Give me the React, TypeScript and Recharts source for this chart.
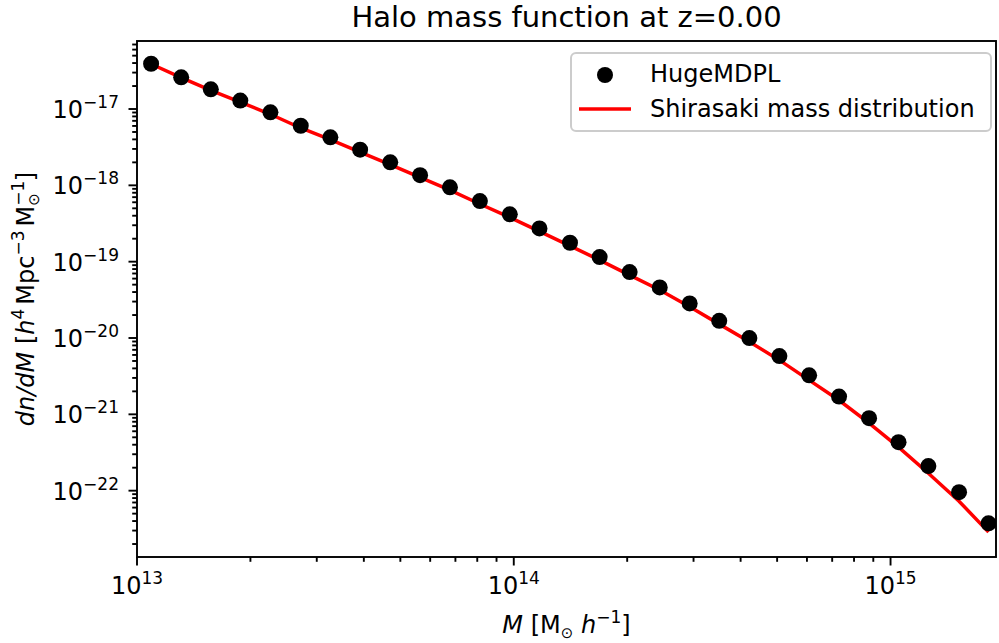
import React from 'react';
import { ComposedChart, Line, Scatter, XAxis, YAxis } from 'recharts';

// halo mass bins [M_sun / h]
const masses = [
  1.09e13, 1.31e13, 1.57e13, 1.88e13, 2.26e13, 2.72e13, 3.26e13, 3.91e13, 4.7e13, 5.64e13,
  6.77e13, 8.13e13, 9.76e13, 1.17e14, 1.41e14, 1.69e14, 2.03e14, 2.44e14, 2.93e14, 3.51e14,
  4.22e14, 5.07e14, 6.08e14, 7.3e14, 8.77e14, 1.05e15, 1.26e15, 1.52e15, 1.82e15,
];

// dn/dM from the simulation
const hugeMDPL = [
  3.92e-17, 2.6e-17, 1.81e-17, 1.29e-17, 9.05e-18, 6.04e-18, 4.26e-18, 2.93e-18, 2.0e-18, 1.36e-18,
  9.42e-19, 6.22e-19, 4.17e-19, 2.73e-19, 1.77e-19, 1.15e-19, 7.3e-20, 4.6e-20, 2.84e-20, 1.68e-20,
  9.97e-21, 5.79e-21, 3.24e-21, 1.71e-21, 8.91e-22, 4.32e-22, 2.1e-22, 9.55e-23, 3.73e-23,
];

// model curve
const shirasaki = [
  3.89e-17, 2.58e-17, 1.76e-17, 1.23e-17, 8.53e-18, 5.64e-18, 3.97e-18, 2.73e-18, 1.87e-18, 1.27e-18,
  8.67e-19, 5.69e-19, 3.81e-19, 2.49e-19, 1.61e-19, 1.05e-19, 6.67e-20, 4.25e-20, 2.56e-20, 1.52e-20,
  8.91e-21, 5.13e-21, 2.81e-21, 1.53e-21, 7.67e-22, 3.72e-22, 1.69e-22, 7.28e-23, 2.86e-23,
];

const xDomain = [1e13, 1.905e15];
const yDomain = [1.352e-23, 7.78e-17];
const xMajor = [1e13, 1e14, 1e15];
const yMajor = [1e-23, 1e-22, 1e-21, 1e-20, 1e-19, 1e-18, 1e-17, 1e-16];

const withMinors = (majors: number[], lo: number, hi: number) => {
  const out: number[] = [];
  majors.forEach((m) => {
    for (let k = 1; k < 10; k++) {
      const v = m * k;
      if (v >= lo * 0.9999 && v <= hi * 1.0001) out.push(v);
    }
  });
  return out;
};

const xTicks = withMinors([1e13, 1e14, 1e15], xDomain[0], xDomain[1]);
const yTicks = withMinors(yMajor, yDomain[0], yDomain[1]);

const data = masses.map((m, i) => ({ m, hmf: hugeMDPL[i], fit: shirasaki[i] }));

const FONT = '"DejaVu Sans", sans-serif';
const MINUS = '\u2212';

const isMajor = (v: number) => {
  const l = Math.log10(v);
  return Math.abs(l - Math.round(l)) < 1e-6;
};
const expLabel = (v: number) => {
  const e = Math.round(Math.log10(v));
  return e < 0 ? MINUS + Math.abs(e) : String(e);
};

const XTick = (props: any) => {
  const { x, y, payload } = props;
  const major = isMajor(payload.value);
  return (
    <g>
      <line x1={x} x2={x} y1={y} y2={y + (major ? 8.5 : 4.8)} stroke="#000" strokeWidth={1.9} />
      {major && (
        <text x={x} y={y + 37} textAnchor="middle" fontSize={24} fontFamily={FONT} fill="#000">
          10<tspan dy={-10} fontSize={17}>{expLabel(payload.value)}</tspan>
        </text>
      )}
    </g>
  );
};

const YTick = (props: any) => {
  const { x, y, payload } = props;
  const major = isMajor(payload.value);
  return (
    <g>
      <line x1={x - (major ? 8.5 : 4.8)} x2={x} y1={y} y2={y} stroke="#000" strokeWidth={1.9} />
      {major && (
        <text x={x - 18} y={y + 9} textAnchor="end" fontSize={24} fontFamily={FONT} fill="#000">
          10<tspan dy={-10} fontSize={17}>{expLabel(payload.value)}</tspan>
        </text>
      )}
    </g>
  );
};

const Dot = (props: any) => <circle cx={props.cx} cy={props.cy} r={8} fill="#000" />;

export default function App() {
  return (
    <div style={{ position: 'absolute', left: 0, top: 0, width: 999, height: 643, background: '#fff' }}>
      <ComposedChart
        width={999}
        height={643}
        data={data}
        margin={{ top: 41, right: 3, bottom: 26, left: 7 }}
      >
        <XAxis
          dataKey="m"
          type="number"
          scale="log"
          domain={xDomain}
          allowDataOverflow
          ticks={xTicks}
          interval={0}
          tick={<XTick />}
          tickSize={0}
          tickMargin={0}
          axisLine={false}
          height={60}
        />
        <YAxis
          type="number"
          scale="log"
          domain={yDomain}
          allowDataOverflow
          ticks={yTicks}
          interval={0}
          tick={<YTick />}
          tickSize={0}
          tickMargin={0}
          axisLine={false}
          width={130}
        />
        <Scatter dataKey="hmf" fill="#000" shape={<Dot />} isAnimationActive={false} />
        <Line
          dataKey="fit"
          type="linear"
          stroke="#ff0000"
          strokeWidth={3.5}
          dot={false}
          activeDot={false}
          isAnimationActive={false}
        />
      </ComposedChart>
      <svg
        width={999}
        height={643}
        style={{ position: 'absolute', left: 0, top: 0, pointerEvents: 'none' }}
        fontFamily={FONT}
      >
        <rect x={137} y={41} width={859} height={516} fill="none" stroke="#000" strokeWidth={1.9} />
        <text x={566.5} y={27} textAnchor="middle" fontSize={29} fill="#000">
          Halo mass function at z=0.00
        </text>
        <text x={566.5} y={633} textAnchor="middle" fontSize={24} fill="#000">
          <tspan fontStyle="italic">M</tspan>
          <tspan>{' [M'}</tspan>
          <tspan dy={5} fontSize={15}>{'\u2299'}</tspan>
          <tspan dy={-5} fontStyle="italic">{' h'}</tspan>
          <tspan dy={-10} fontSize={17}>{MINUS + '1'}</tspan>
          <tspan dy={10}>]</tspan>
        </text>
        <text transform="translate(34,299) rotate(-90)" textAnchor="middle" fontSize={24} fill="#000">
          <tspan fontStyle="italic">dn/dM</tspan>
          <tspan>{' ['}</tspan>
          <tspan fontStyle="italic">h</tspan>
          <tspan dy={-10} fontSize={17}>4</tspan>
          <tspan dy={10} dx={4}>Mpc</tspan>
          <tspan dy={-10} fontSize={17}>{MINUS + '3'}</tspan>
          <tspan dy={10} dx={4}>M</tspan>
          <tspan dy={-10} fontSize={17}>{MINUS + '1'}</tspan>
          <tspan dy={15} dx={-25} fontSize={15}>{'\u2299'}</tspan>
          <tspan dy={-5} dx={12}>]</tspan>
        </text>
        <g transform="translate(571,53)">
          <rect x={0} y={0} width={420} height={78} rx={5} fill="#fff" fillOpacity={0.8} stroke="#cccccc" strokeWidth={2} />
          <circle cx={34} cy={22} r={8} fill="#000" />
          <text x={79} y={29} fontSize={24} fill="#000">HugeMDPL</text>
          <line x1={8} x2={60} y1={56} y2={56} stroke="#ff0000" strokeWidth={3.5} />
          <text x={79} y={64} fontSize={24} fill="#000">Shirasaki mass distribution</text>
        </g>
      </svg>
    </div>
  );
}
